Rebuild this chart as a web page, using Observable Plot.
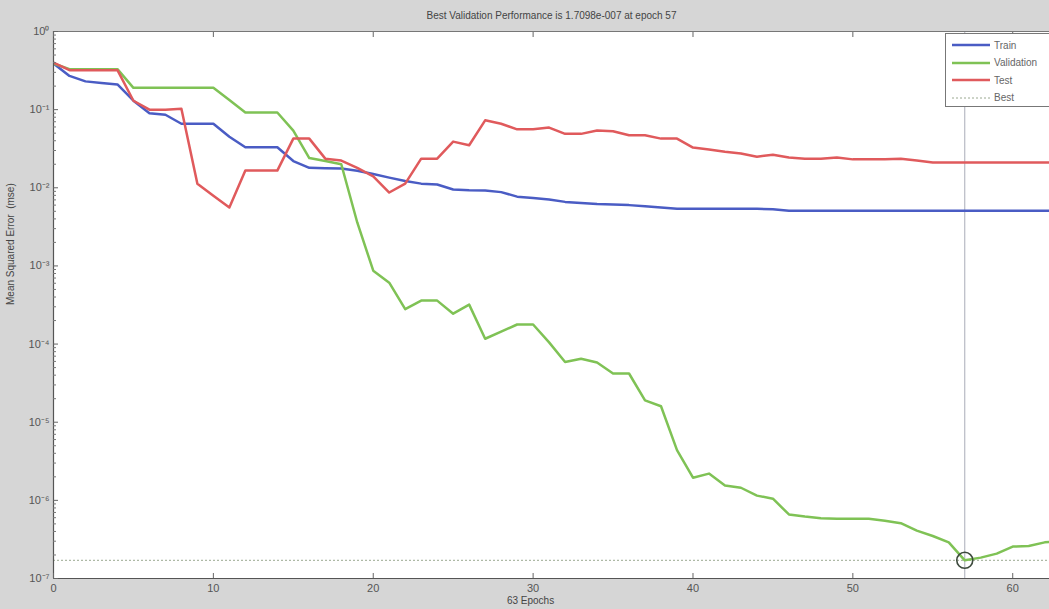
<!DOCTYPE html>
<html>
<head>
<meta charset="utf-8">
<script src="https://cdn.jsdelivr.net/npm/d3@7"></script>
<script src="https://cdn.jsdelivr.net/npm/@observablehq/plot@0.6"></script>
<style>
  html, body { margin: 0; padding: 0; background: #d6d6d6; overflow: hidden; }
  #wrap { position: relative; width: 1049px; height: 609px; overflow: hidden; font-family: "Liberation Sans", Arial, sans-serif; }
  #legend { position: absolute; left: 945px; top: 33px; width: 130px; height: 74px; background: #fff; border: 1px solid #777; box-sizing: border-box; font-size: 10px; color: #666; }
  .row { position: absolute; left: 6px; height: 14px; display: flex; align-items: center; }
  .row svg { margin-right: 4px; }
</style>
</head>
<body>
<div id="wrap"><div id="chart"></div><div id="legend"></div></div>
<script>
const titleText = "Best Validation Performance is 1.7098e-007 at epoch 57";
const xLabel = "63 Epochs";
const yLabel = "Mean Squared Error  (mse)";
const epochs = d3.range(0, 64);
const train = [0.39,0.27,0.23,0.22,0.21,0.13,0.09,0.086,0.066,0.066,
  0.066,0.045,0.033,0.033,0.033,0.022,0.018,0.0178,0.0177,0.0165,
  0.015,0.0135,0.0122,0.0113,0.011,0.0095,0.0093,0.0092,0.0088,0.0077,
  0.0074,0.0071,0.0066,0.0064,0.0062,0.0061,0.006,0.0058,0.0056,0.0054,
  0.0054,0.0054,0.0054,0.0054,0.0054,0.0053,0.0051,0.0051,0.0051,0.0051,
  0.0051,0.0051,0.0051,0.0051,0.0051,0.0051,0.0051,0.0051,0.0051,0.0051,
  0.0051,0.0051,0.0051,0.0051];
const validation = [0.39,0.33,0.33,0.33,0.33,0.19,0.19,0.19,0.19,0.19,
  0.19,0.133,0.092,0.092,0.092,0.054,0.024,0.022,0.020,0.0036,
  8.7e-4,6.1e-4,2.8e-4,3.6e-4,3.6e-4,2.45e-4,3.2e-4,1.17e-4,1.44e-4,1.78e-4,
  1.78e-4,1.05e-4,5.9e-5,6.5e-5,5.8e-5,4.2e-5,4.2e-5,1.9e-5,1.6e-5,4.4e-6,
  1.95e-6,2.2e-6,1.55e-6,1.45e-6,1.15e-6,1.05e-6,6.6e-7,6.2e-7,5.9e-7,5.8e-7,
  5.8e-7,5.8e-7,5.5e-7,5.1e-7,4.1e-7,3.5e-7,2.9e-7,1.7098e-7,1.85e-7,2.08e-7,
  2.56e-7,2.6e-7,2.9e-7,3.0e-7];
const test = [0.40,0.32,0.32,0.32,0.32,0.13,0.10,0.10,0.103,0.0113,
  0.0079,0.0056,0.0166,0.0166,0.0166,0.0426,0.0426,0.0236,0.0223,0.018,
  0.014,0.0087,0.0113,0.0236,0.0236,0.039,0.035,0.073,0.066,0.056,
  0.056,0.059,0.049,0.049,0.054,0.053,0.047,0.047,0.0426,0.0426,
  0.0327,0.031,0.029,0.0275,0.025,0.0265,0.0244,0.0236,0.0236,0.0244,
  0.0231,0.0231,0.0231,0.0236,0.0223,0.021,0.021,0.021,0.021,0.021,
  0.021,0.021,0.021,0.021];
const bestEpoch = 57;
const bestValue = 1.7098e-7;
const xTicks = [0, 10, 20, 30, 40, 50, 60];
const yTicks = [1, 1e-1, 1e-2, 1e-3, 1e-4, 1e-5, 1e-6, 1e-7];
const seriesNames = ["Train", "Validation", "Test", "Best"];
const seriesColors = ["#4a5cc4", "#7fc255", "#e05a5c", "#9aa890"];

const minorTicks = [];
for (let k = -7; k < 0; k++) for (let m = 2; m <= 9; m++) minorTicks.push(m * Math.pow(10, k));

const supMap = {"-": "\u207B", "0": "\u2070", "1": "\u00B9", "2": "\u00B2", "3": "\u00B3", "4": "\u2074", "5": "\u2075", "6": "\u2076", "7": "\u2077", "8": "\u2078", "9": "\u2079"};
const sup = d => "10" + String(Math.round(Math.log10(d))).split("").map(c => supMap[c]).join("");

const toRows = vals => epochs.map((e, i) => ({epoch: e, value: vals[i]}));

const chart = Plot.plot({
  width: 1049, height: 609,
  marginTop: 31, marginLeft: 53, marginRight: 0, marginBottom: 31,
  style: {background: "#d6d6d6", fontFamily: "Liberation Sans, Arial, sans-serif", fontSize: "10px", color: "#555"},
  x: {domain: [0, 62.3]},
  y: {type: "log", domain: [1e-7, 1]},
  marks: [
    Plot.frame({fill: "white", stroke: null}),
    Plot.ruleY([bestValue], {stroke: seriesColors[3], strokeDasharray: "2,2", strokeWidth: 1}),
    Plot.ruleX([bestEpoch], {stroke: "#a9acb8", strokeWidth: 1}),
    Plot.line(toRows(train), {x: "epoch", y: "value", stroke: seriesColors[0], strokeWidth: 2.5, clip: true}),
    Plot.line(toRows(validation), {x: "epoch", y: "value", stroke: seriesColors[1], strokeWidth: 2.5, clip: true}),
    Plot.line(toRows(test), {x: "epoch", y: "value", stroke: seriesColors[2], strokeWidth: 2.5, clip: true}),
    Plot.dot([{epoch: bestEpoch, value: bestValue}], {x: "epoch", y: "value", r: 8, stroke: "#3d4a3d", strokeWidth: 1.6, fill: "none"}),
    Plot.ruleX([0], {stroke: "#555", strokeWidth: 1.2}),
    Plot.ruleY([1e-7], {stroke: "#555", strokeWidth: 1.2}),
    Plot.ruleY([1], {stroke: "#777", strokeWidth: 1}),
    Plot.axisX({ticks: xTicks, tickSize: 5, dy: -5, tickPadding: 6, label: null, stroke: "#666", fill: "#555", fontSize: 11}),
    Plot.axisX({anchor: "top", ticks: xTicks, tickSize: 5, dy: 5, tickFormat: () => "", label: null, stroke: "#666"}),
    Plot.axisY({ticks: yTicks, tickSize: 5, dx: 5, tickPadding: 4, tickFormat: sup, label: null, stroke: "#666", fill: "#555", fontSize: 11}),
    Plot.axisY({ticks: minorTicks, tickSize: 3, dx: 3, tickFormat: () => "", label: null, stroke: "#777"}),
    Plot.text([titleText], {frameAnchor: "top", dy: -20, fill: "#444", fontSize: 10}),
    Plot.text([xLabel], {frameAnchor: "bottom", dy: 25, dx: -21, fill: "#444", fontSize: 10}),
    Plot.text([yLabel], {frameAnchor: "left", rotate: -90, dx: -43, fill: "#444", fontSize: 10})
  ]
});
document.getElementById("chart").appendChild(chart);

const legend = document.getElementById("legend");
seriesNames.forEach((name, i) => {
  const row = document.createElement("div");
  row.className = "row";
  row.style.top = (4 + i * 17.5) + "px";
  const dash = i === 3 ? 'stroke-dasharray="2,2" stroke-width="1"' : 'stroke-width="2.5"';
  row.innerHTML = `<svg width="38" height="6"><line x1="0" y1="3" x2="38" y2="3" stroke="${seriesColors[i]}" ${dash}/></svg><span>${name}</span>`;
  legend.appendChild(row);
});
</script>
</body>
</html>
